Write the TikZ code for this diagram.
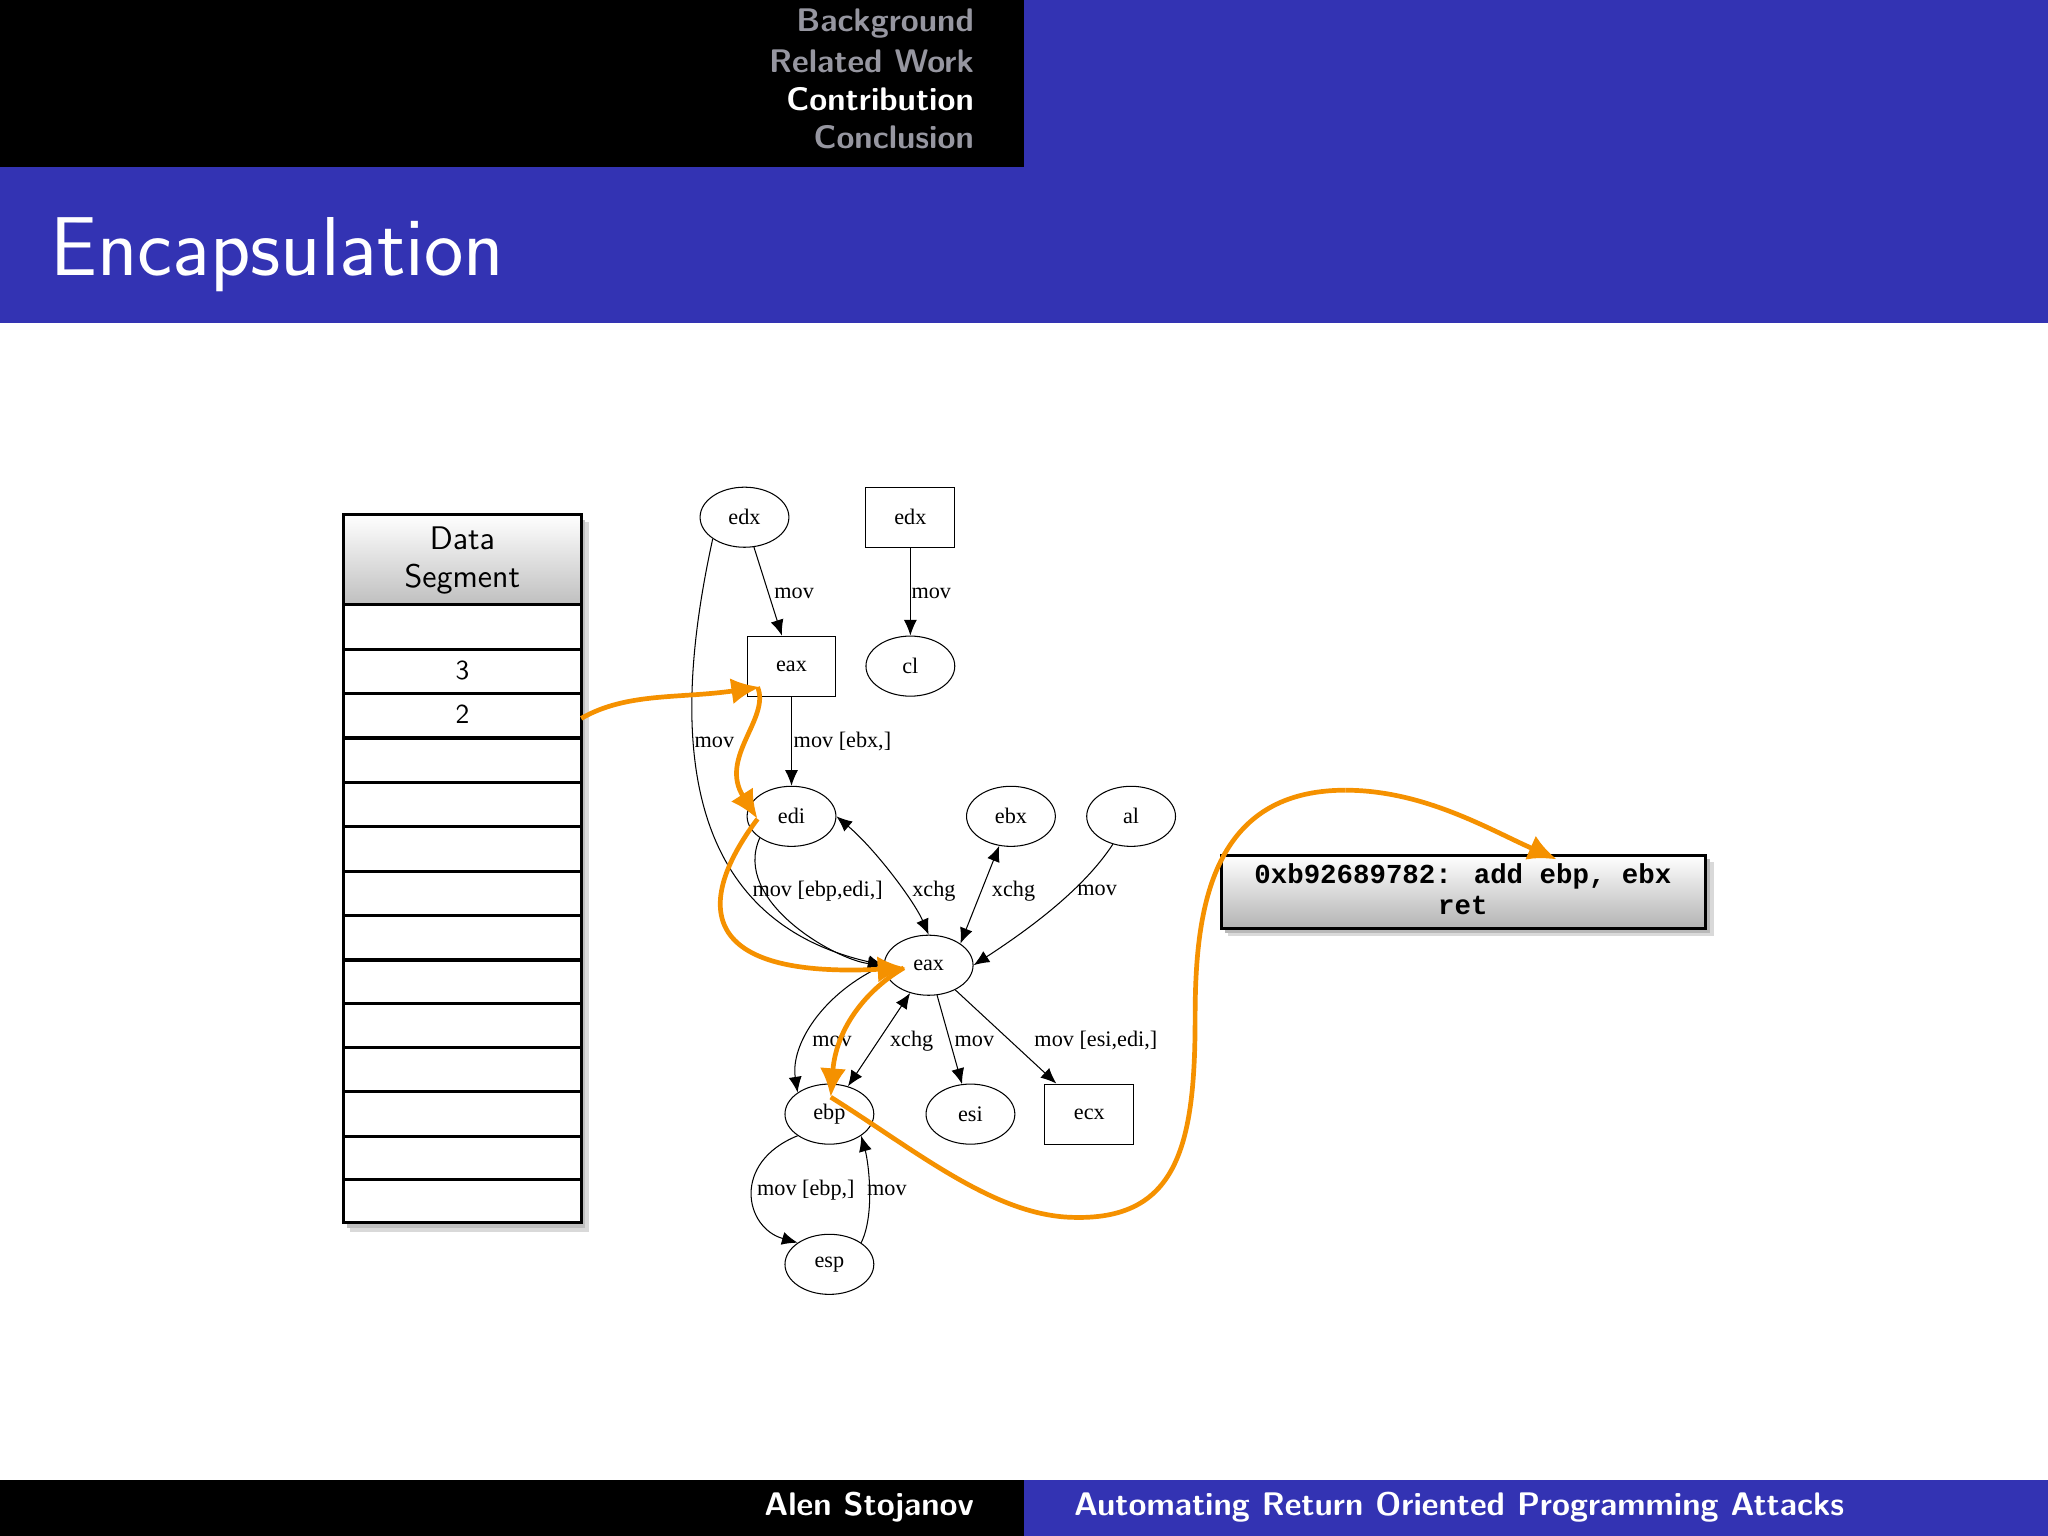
\documentclass[tikz,border=0pt]{standalone}
\usepackage{fontspec}
\newfontfamily\gfont{Liberation Serif}
\newfontfamily\cfont{Liberation Mono}
\usetikzlibrary{shapes.geometric,arrows.meta,shadows}
\definecolor{bbl}{RGB}{51,51,179}
\definecolor{org}{RGB}{245,145,0}
\definecolor{hgr}{RGB}{150,150,160}
\begin{document}
\begin{tikzpicture}[x=0.5pt,y=-0.5pt,
 el/.style={draw,ellipse,minimum width=34pt,minimum height=23pt,inner sep=0pt,font=\gfont\fontsize{8.5}{9}\selectfont},
 bx/.style={draw,rectangle,minimum width=34pt,minimum height=23pt,inner sep=0pt,font=\gfont\fontsize{8.5}{9}\selectfont},
 lb/.style={font=\gfont\fontsize{8.5}{9}\selectfont,inner sep=1pt},
 ed/.style={-{Latex[length=6pt,width=5pt]}},
 bd/.style={{Latex[length=6pt,width=5pt]}-{Latex[length=6pt,width=5pt]}},
 op/.style={draw=org,line width=1.8pt},
 oa/.style={op,-{Latex[length=11pt,width=10pt]}},
 hd/.style={anchor=east,font=\sffamily\bfseries\fontsize{12.5}{13}\selectfont,text=hgr,inner sep=0pt}]
\useasboundingbox (0,0) rectangle (1568,1176);
\fill[black] (0,0) rectangle (784,128);
\fill[bbl] (784,0) rectangle (1568,128);
\fill[bbl] (0,128) rectangle (1568,247);
\node[hd] (h1) at (746,18) {Background};
\node[hd] (h2) at (746,47) {Related Work};
\node[hd,text=white] (h3) at (746,76) {Contribution};
\node[hd] (h4) at (746,105) {Conclusion};
\node[anchor=west,text=white,font=\sffamily\fontsize{32}{34}\selectfont,inner sep=0pt] (title) at (38,195) {Encapsulation};
\fill[black] (0,1133) rectangle (784,1176);
\fill[bbl] (784,1133) rectangle (1568,1176);
\node[anchor=east,text=white,font=\sffamily\bfseries\fontsize{12.5}{13}\selectfont,inner sep=0pt] (ft1) at (746,1154) {Alen Stojanov};
\node[anchor=west,text=white,font=\sffamily\bfseries\fontsize{12.5}{13}\selectfont,inner sep=0pt] (ft2) at (822,1154) {Automating Return Oriented Programming Attacks};
% data segment
\fill[black!15] (268,400) rectangle (451,943);
\fill[black!25] (266,398) rectangle (448,940);
\shade[top color=white,bottom color=black!25] (263,394) rectangle (445,463);
\fill[white] (263,463) rectangle (445,936);
\draw[line width=1.2pt] (263,394) rectangle (445,936);
\foreach \y in {463,497,531,565,599,633,667,701,735,768,802,836,870,903} \draw[line width=1.2pt] (263,\y) -- (445,\y);
\node[align=center,font=\sffamily\fontsize{12.5}{14.5}\selectfont] (dh) at (354,429) {Data\\Segment};
\node[font=\sffamily\fontsize{10.5}{12}\selectfont] (r3) at (354,513) {3};
\node[font=\sffamily\fontsize{10.5}{12}\selectfont] (r2) at (354,547) {2};
% graph
\node[el] (edxa) at (570,396) {edx};
\node[bx] (edxb) at (697,396) {edx};
\node[bx] (eaxa) at (606,510) {eax};
\node[el] (cl) at (697,510) {cl};
\node[el] (edi) at (606,625) {edi};
\node[el] (ebx) at (774,625) {ebx};
\node[el] (al) at (866,625) {al};
\node[el] (eax) at (711,739) {eax};
\node[el] (ebp) at (635,853) {ebp};
\node[el] (esi) at (743,853) {esi};
\node[bx] (ecx) at (834,853) {ecx};
\node[el] (esp) at (635,968) {esp};
\draw[ed] (edxa) -- (eaxa);
\node[lb] (l1) at (608,454) {mov};
\draw[ed] (edxb) -- (cl);
\node[lb] (l2) at (713,454) {mov};
\draw[ed] (eaxa) -- (edi);
\node[lb] (l3) at (645,568) {mov [ebx,]};
\draw[ed] (edxa.south west) .. controls (520,530) and (505,700) .. (eax.west);
\node[lb] (l4) at (547,568) {mov};
\draw[ed] (edi.south west) .. controls (560,690) and (640,735) .. (eax.west);
\node[lb] (l5) at (626,682) {mov [ebp,edi,]};
\draw[bd] (edi.east) .. controls (670,650) and (700,690) .. (eax.north);
\node[lb] (l6) at (715,682) {xchg};
\draw[bd] (ebx) -- (eax.north east);
\node[lb] (l7) at (776,682) {xchg};
\draw[ed] (al) .. controls (830,680) and (790,710) .. (eax.east);
\node[lb] (l8) at (840,682) {mov};
\draw[ed] (eax.west) .. controls (630,760) and (605,800) .. (ebp.north west);
\node[lb] (l9) at (637,797) {mov};
\draw[bd] (eax) -- (ebp);
\node[lb] (l10) at (698,797) {xchg};
\draw[ed] (eax) -- (esi);
\node[lb] (l11) at (746,797) {mov};
\draw[ed] (eax) -- (ecx);
\node[lb] (l12) at (839,797) {mov [esi,edi,]};
\draw[ed] (ebp.south west) .. controls (560,890) and (570,940) .. (esp.north west);
\node[lb] (l13) at (617,911) {mov [ebp,]};
\draw[ed] (esp.north east) .. controls (670,930) and (665,890) .. (ebp.south east);
\node[lb] (l14) at (679,911) {mov};
% code box
\fill[black!15] (940,660) rectangle (1312,717);
\fill[black!28] (938,658) rectangle (1309,714);
\shade[top color=white,bottom color=black!30] (935,655) rectangle (1306,711);
\draw[line width=1.2pt] (935,655) rectangle (1306,711);
\node[font=\cfont\bfseries\fontsize{10.5}{12}\selectfont,align=center] (code) at (1120,681) {0xb92689782: add ebp, ebx\\ret};
% orange
\coordinate (o0) at (445,550);
\coordinate (o1) at (582,526);
\coordinate (o2) at (580,627);
\coordinate (o3) at (694,741);
\coordinate (o4) at (636,840);
\coordinate (o5) at (1192,658);
\draw[oa] (o0) .. controls (480,530) and (520,535) .. (o1);
\draw[oa] (580,526) .. controls (590,550) and (550,580) .. (o2);
\draw[oa] (580,627) .. controls (540,680) and (520,750) .. (o3);
\draw[oa] (692,741) .. controls (660,760) and (640,790) .. (o4);
\draw[op] (636,840) .. controls (700,880) and (760,930) .. (820,932) .. controls (900,935) and (915,880) .. (915,780) .. controls (915,700) and (925,605) .. (1030,605);
\draw[oa] (1030,605) .. controls (1090,605) and (1140,635) .. (o5);
\end{tikzpicture}
\end{document}
